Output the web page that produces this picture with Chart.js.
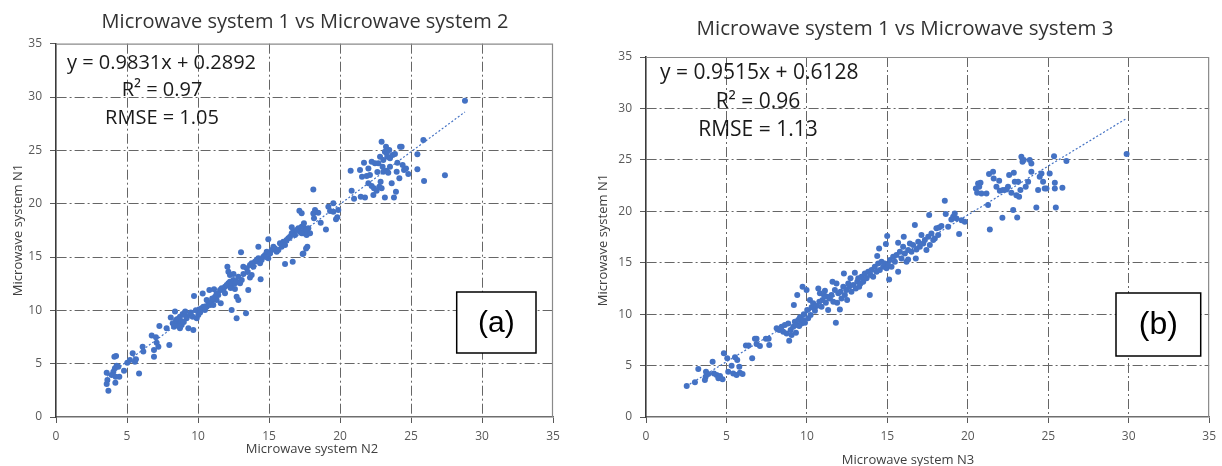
<!DOCTYPE html>
<html><head><meta charset="utf-8">
<script src="https://cdn.jsdelivr.net/npm/chart.js@4.4.1/dist/chart.umd.min.js"></script>
<style>
html,body{margin:0;padding:0;background:#fff;width:1222px;height:466px;overflow:hidden}
canvas{position:absolute;top:0}
#c1{left:0}
#c2{left:580px}
</style></head><body>
<canvas id="c1" width="600" height="466"></canvas>
<canvas id="c2" width="642" height="466"></canvas>
<script>
// ---------- DATA ----------
const tickValues = [0, 5, 10, 15, 20, 25, 30, 35];

// (a) Microwave system N2 (x) vs N1 (y)
const aX = [3.69,3.57,3.62,3.57,4.18,4.23,4.11,4.27,4.04,4.46,4.2,4.15,4.39,3.92,4.79,5.02,5.21,5.4,5.63,5.56,5.85,6.1,6.15,6.74,7.04,6.9,6.9,7.09,7.28,7.79,7.98,7.21,8.08,8.38,8.22,8.31,8.5,8.62,8.73,8.45,8.85,8.73,8.92,9.08,9.2,9.32,9.44,9.67,9.62,9.91,10.02,10.26,10.38,10.49,10.61,10.73,10.85,10.96,11.08,11.31,11.2,11.43,11.55,11.78,11.9,12.02,12.14,12.25,12.37,12.49,12.61,12.72,12.84,12.96,13.08,12.14,12.07,12.25,12.37,12.72,13.38,13.54,12.72,12.84,9.72,10.33,10.61,10.8,11.13,11.31,11.6,11.67,13.19,13.43,13.66,13.78,13.9,14.01,14.13,14.25,14.37,14.48,14.6,14.72,14.84,14.95,15.07,15.19,15.31,15.42,15.54,15.66,15.77,15.89,16.01,16.13,16.24,16.36,16.48,16.6,16.71,16.83,16.95,17.07,17.18,17.3,17.42,17.54,17.65,13.03,14.25,14.95,14.41,13.66,13.78,16.13,16.67,17.42,17.61,17.14,16.6,8.55,8.8,9.0,8.65,9.1,9.5,9.85,10.1,10.15,11.0,11.9,12.3,12.6,12.5,13.2,13.5,17.3,17.42,17.54,17.3,17.65,17.77,17.46,17.89,17.7,17.37,18.12,18.12,18.17,18.24,18.47,18.64,19.01,19.18,19.3,19.53,19.72,19.81,19.53,19.88,20.75,20.82,20.99,21.41,21.46,21.55,21.69,21.76,21.88,22.0,22.11,22.23,22.35,22.39,22.46,22.58,22.7,22.77,22.82,22.86,22.93,23.0,23.05,23.16,23.16,23.24,23.29,23.33,23.4,23.47,23.52,23.64,23.71,23.8,23.87,23.94,24.04,24.18,24.23,24.34,24.41,24.51,24.65,24.81,25.45,25.45,25.87,25.92,27.39,28.8,23.29,23.05,22.63,22.0,22.93,22.23,23.52,23.99];
const aY = [2.47,3.09,3.47,4.16,3.22,5.72,5.66,4.81,4.25,3.78,3.78,4.56,4.72,3.94,4.34,5.09,5.34,5.97,5.41,5.19,4.09,6.59,6.13,7.63,7.47,6.28,5.66,6.97,8.53,8.31,6.75,6.59,9.34,9.88,8.78,8.47,8.63,8.94,9.41,9.09,8.63,8.31,9.66,9.56,9.25,8.31,9.56,8.16,9.41,9.25,9.56,10.19,10.34,10.03,10.34,10.66,10.5,10.81,10.5,10.97,11.28,11.44,11.91,11.91,12.22,12.38,12.53,12.69,12.38,12.84,12.53,12.69,13.16,12.53,12.84,13.63,14.09,13.31,10.03,9.25,9.72,11.91,11.28,10.97,11.34,11.59,10.97,11.91,11.97,11.59,10.66,12.06,14.09,13.94,14.25,14.41,14.09,14.56,14.72,14.88,14.41,14.72,15.03,15.19,15.5,14.88,15.34,15.66,15.97,15.81,15.5,15.66,16.28,15.97,16.44,16.13,16.59,16.75,16.91,17.22,17.38,17.06,17.53,17.69,17.38,17.84,17.22,17.53,17.06,15.44,15.97,16.66,12.91,13.09,13.31,14.34,14.56,15.34,15.81,19.34,17.78,9.2,9.0,8.9,8.5,9.9,9.8,10.0,10.1,9.8,11.1,11.6,12.1,12.0,13.4,13.4,13.6,19.1,17.84,17.38,17.22,17.53,17.69,18.16,17.22,15.97,15.28,21.34,19.09,18.63,19.41,19.16,18.22,17.59,19.72,19.31,19.25,18.53,18.72,20.03,19.41,23.09,21.22,20.47,23.16,20.66,22.53,23.84,20.59,22.59,23.31,22.69,21.66,20.81,21.44,23.78,21.22,23.78,21.59,24.41,22.06,25.81,23.47,23.0,24.88,20.59,25.34,23.09,24.41,22.91,25.03,24.25,21.91,24.56,20.59,24.66,21.13,23.84,22.38,25.34,25.34,23.63,23.16,23.31,22.78,23.22,24.63,25.97,22.13,22.66,29.66,24.72,24.09,22.97,21.91,21.44,23.94,23.47,23.0];
const aTrendX = [3.6, 28.8];
const aTrendY = [3.83, 28.60];

// (b) Microwave system N3 (x) vs N1 (y)
const bX = [2.53,3.04,3.25,3.73,3.71,3.87,3.66,4.14,4.22,4.39,4.6,4.5,4.76,4.84,5.05,5.32,5.11,5.42,5.53,5.63,5.67,5.8,5.84,6.0,6.21,6.38,6.6,6.77,6.87,6.87,7.08,7.45,7.62,7.66,8.12,8.28,8.43,8.53,8.63,8.74,8.84,8.9,8.99,9.05,9.15,9.19,9.25,9.32,9.36,9.4,9.46,9.52,9.57,9.67,9.73,9.77,9.81,9.88,9.98,10.02,10.08,10.19,10.23,10.29,10.39,10.5,10.6,10.71,10.77,10.81,10.91,10.97,11.06,11.12,11.18,11.26,11.32,11.43,11.53,11.59,11.64,11.74,11.8,11.84,11.88,11.95,12.05,12.09,12.15,12.26,12.3,12.36,12.46,12.5,12.57,12.63,12.71,12.77,12.88,12.98,13.04,13.13,13.19,13.25,13.33,13.4,13.5,13.6,13.71,13.81,13.91,13.95,14.02,14.12,14.22,14.33,14.37,14.43,14.53,14.64,14.74,14.84,14.95,14.99,15.05,15.11,15.16,15.26,15.36,15.47,15.57,15.67,15.78,15.88,15.98,16.09,16.19,16.29,16.4,16.5,16.6,16.71,16.77,16.81,16.92,17.02,17.12,17.23,17.33,17.43,17.54,17.64,17.74,17.85,17.95,18.05,18.16,14.91,15.67,16.02,14.49,16.29,17.6,18.22,18.36,18.57,18.63,18.78,18.98,19.09,19.19,19.3,19.46,19.61,19.81,20.5,20.58,20.64,20.71,20.79,20.85,21.16,21.26,21.32,21.37,21.57,21.61,21.78,21.95,21.99,22.15,22.19,22.4,22.5,22.57,22.71,22.82,22.86,22.92,23.02,23.07,23.13,23.19,23.27,23.33,23.4,23.48,23.6,23.75,23.85,23.95,23.95,24.26,24.37,24.47,24.58,24.68,24.78,24.89,25.09,25.36,25.41,25.47,25.41,25.88,26.13,29.87];
const bY = [3.01,3.37,4.66,4.41,3.92,4.18,3.6,5.38,4.24,4.08,3.98,3.76,3.66,6.19,5.7,4.99,4.41,4.24,5.8,4.08,5.54,4.89,4.31,4.18,6.96,6.96,5.7,7.61,7.61,7.09,6.9,7.61,7.61,7.0,8.62,8.45,8.78,8.29,8.94,8.13,9.1,7.42,8.45,7.97,8.78,10.88,9.26,8.2,8.94,11.86,9.43,8.84,9.69,9.1,12.67,9.43,9.98,9.17,12.34,10.4,9.59,11.37,9.91,10.66,11.05,10.33,10.79,12.5,11.21,12.02,10.72,11.37,11.86,12.28,11.11,11.69,10.4,11.53,11.86,13.15,11.21,12.34,9.17,12.99,11.11,12.02,10.46,12.18,11.53,12.67,13.96,11.86,12.34,11.37,12.99,12.67,13.48,12.18,12.83,14.03,12.5,13.15,13.48,12.67,12.99,13.64,13.15,13.96,13.48,14.12,11.86,13.8,14.29,13.64,14.61,14.12,15.65,14.93,14.29,15.1,14.61,14.93,14.45,17.59,14.77,13.38,15.26,14.61,15.58,15.1,15.74,14.12,16.07,15.42,16.55,15.9,15.1,16.23,16.88,16.07,16.72,18.66,15.42,16.29,17.04,16.55,17.69,16.88,17.2,16.23,17.53,16.72,17.85,17.2,17.36,18.34,17.69,16.81,16.94,17.53,16.39,15.32,19.63,18.43,18.56,21.02,19.73,18.5,19.21,19.47,19.79,19.31,17.78,19.14,18.98,22.22,21.8,22.71,22.38,22.77,21.74,21.74,20.6,23.62,18.24,23.84,23.19,22.38,22.97,22.0,19.37,22.06,22.13,22.38,23.52,21.8,20.12,23.74,22.87,21.57,19.4,22.87,21.41,22.06,25.3,24.81,24.98,22.38,22.87,24.98,24.65,23.84,20.38,22.06,23.36,23.68,22.87,22.22,22.22,23.68,25.36,22.77,20.38,22.22,22.29,24.88,25.56];
const bTrendX = [2.5, 29.9];
const bTrendY = [2.99, 29.06];

const titles = ["Microwave system 1 vs Microwave system 2", "Microwave system 1 vs Microwave system 3"];
const xTitles = ["Microwave system N2", "Microwave system N3"];
const yTitles = ["Microwave system N1", "Microwave system N1"];
const eqTexts = [["y = 0.9831x + 0.2892", "R\u00B2 = 0.97", "RMSE = 1.05"], ["y = 0.9515x + 0.6128", "R\u00B2 = 0.96", "RMSE = 1.13"]];
const panelLabels = ["(a)", "(b)"];

// ---------- CHARTS ----------
const BLUE = '#4472C4';
const pts = (xs, ys) => xs.map((x, i) => ({x: x, y: ys[i]}));

function overlay(L) {
  return {
    id: 'overlay' + L.idx,
    beforeDatasetsDraw(chart) {
      const ctx = chart.ctx, a = chart.chartArea;
      ctx.save();
      ctx.strokeStyle = '#8a8a8a';
      ctx.lineWidth = 1.2;
      ctx.beginPath();
      ctx.moveTo(a.left, a.top + 0.5);
      ctx.lineTo(a.right - 0.5, a.top + 0.5);
      ctx.lineTo(a.right - 0.5, a.bottom);
      ctx.stroke();
      ctx.restore();
    },
    afterDraw(chart) {
      const ctx = chart.ctx;
      ctx.save();
      ctx.textBaseline = 'middle';
      // title
      ctx.fillStyle = '#333333';
      ctx.font = L.titleFont + 'px "Open Sans"';
      ctx.textAlign = 'center';
      ctx.fillText(titles[L.idx], L.titleX, L.titleY);
      // axis titles
      ctx.fillStyle = '#404040';
      ctx.font = '13px "Open Sans"';
      ctx.fillText(xTitles[L.idx], L.xtX, L.xtY);
      ctx.save();
      ctx.translate(L.ytX, L.ytY);
      ctx.rotate(-Math.PI / 2);
      ctx.fillText(yTitles[L.idx], 0, 0);
      ctx.restore();
      // regression annotation
      ctx.fillStyle = '#1a1a1a';
      ctx.font = L.eqFont + 'px "Open Sans"';
      ctx.textAlign = 'left';
      ctx.fillText(eqTexts[L.idx][0], L.eq1X, L.eq1Y);
      ctx.textAlign = 'center';
      ctx.fillText(eqTexts[L.idx][1], L.eqCX, L.eq2Y);
      ctx.fillText(eqTexts[L.idx][2], L.eqCX, L.eq3Y);
      // panel box
      ctx.fillStyle = '#ffffff';
      ctx.fillRect(L.box[0], L.box[1], L.box[2], L.box[3]);
      ctx.strokeStyle = '#000000';
      ctx.lineWidth = 1.5;
      ctx.strokeRect(L.box[0], L.box[1], L.box[2], L.box[3]);
      ctx.fillStyle = '#000000';
      ctx.font = L.lblFont + 'px "Liberation Sans"';
      ctx.fillText(panelLabels[L.idx], L.box[0] + L.box[2] / 2, L.box[1] + L.box[3] / 2 + 1);
      ctx.restore();
    }
  };
}

function axisCfg(fitProp, fitVal, pad, isX) {
  return {
    type: 'linear', min: 0, max: 35,
    afterBuildTicks: s => { s.ticks = tickValues.map(v => ({value: v})); },
    afterFit: s => { s[fitProp] = fitVal; },
    ticks: { color: '#595959', font: {family: 'Open Sans', size: 12}, padding: pad, maxRotation: 0 },
    grid: {
      color: c => (c.tick && (c.tick.value === 0 || c.tick.value === 35)) ? 'rgba(0,0,0,0)' : '#666666',
      lineWidth: 1, tickLength: 6, tickColor: '#595959', drawTicks: true
    },
    border: { display: true, color: isX ? '#6e6e6e' : '#3a3a3a', width: 1.6, dash: [10, 3, 2, 3] }
  };
}

function makeChart(id, xs, ys, tx, ty, layout, L) {
  return new Chart(document.getElementById(id), {
    type: 'scatter',
    data: {
      datasets: [
        { data: pts(xs, ys), backgroundColor: BLUE, borderWidth: 0, pointRadius: 3, order: 1 },
        { data: pts(tx, ty), showLine: true, borderColor: BLUE, borderWidth: 1.2, borderDash: [2, 2], pointRadius: 0, fill: false, order: 2 }
      ]
    },
    options: {
      responsive: false, animation: false, devicePixelRatio: 1,
      layout: { padding: layout.padding },
      plugins: { legend: {display: false}, tooltip: {enabled: false}, title: {display: false} },
      scales: {
        x: axisCfg('height', layout.xh, 6, true),
        y: axisCfg('width', layout.yw, 8, false)
      }
    },
    plugins: [overlay(L)]
  });
}

makeChart('c1', aX, aY, aTrendX, aTrendY,
  { padding: {left: 0, top: 43.7, right: 47, bottom: 0}, xh: 49, yw: 56 },
  { idx: 0, titleFont: 20, titleX: 305, titleY: 22, xtX: 312, xtY: 449, ytX: 18, ytY: 230,
    eqFont: 20, eq1X: 67, eq1Y: 63, eqCX: 162, eq2Y: 90, eq3Y: 118,
    box: [456.7, 292, 79.3, 61], lblFont: 30 });

makeChart('c2', bX, bY, bTrendX, bTrendY,
  { padding: {left: 0, top: 57, right: 12, bottom: 0}, xh: 49, yw: 66 },
  { idx: 1, titleFont: 20.5, titleX: 325, titleY: 29, xtX: 328, xtY: 460, ytX: 23, ytY: 240,
    eqFont: 21, eq1X: 80, eq1Y: 73, eqCX: 178, eq2Y: 102, eq3Y: 130,
    box: [536, 293, 84.7, 63], lblFont: 32 });
</script>
</body></html>
